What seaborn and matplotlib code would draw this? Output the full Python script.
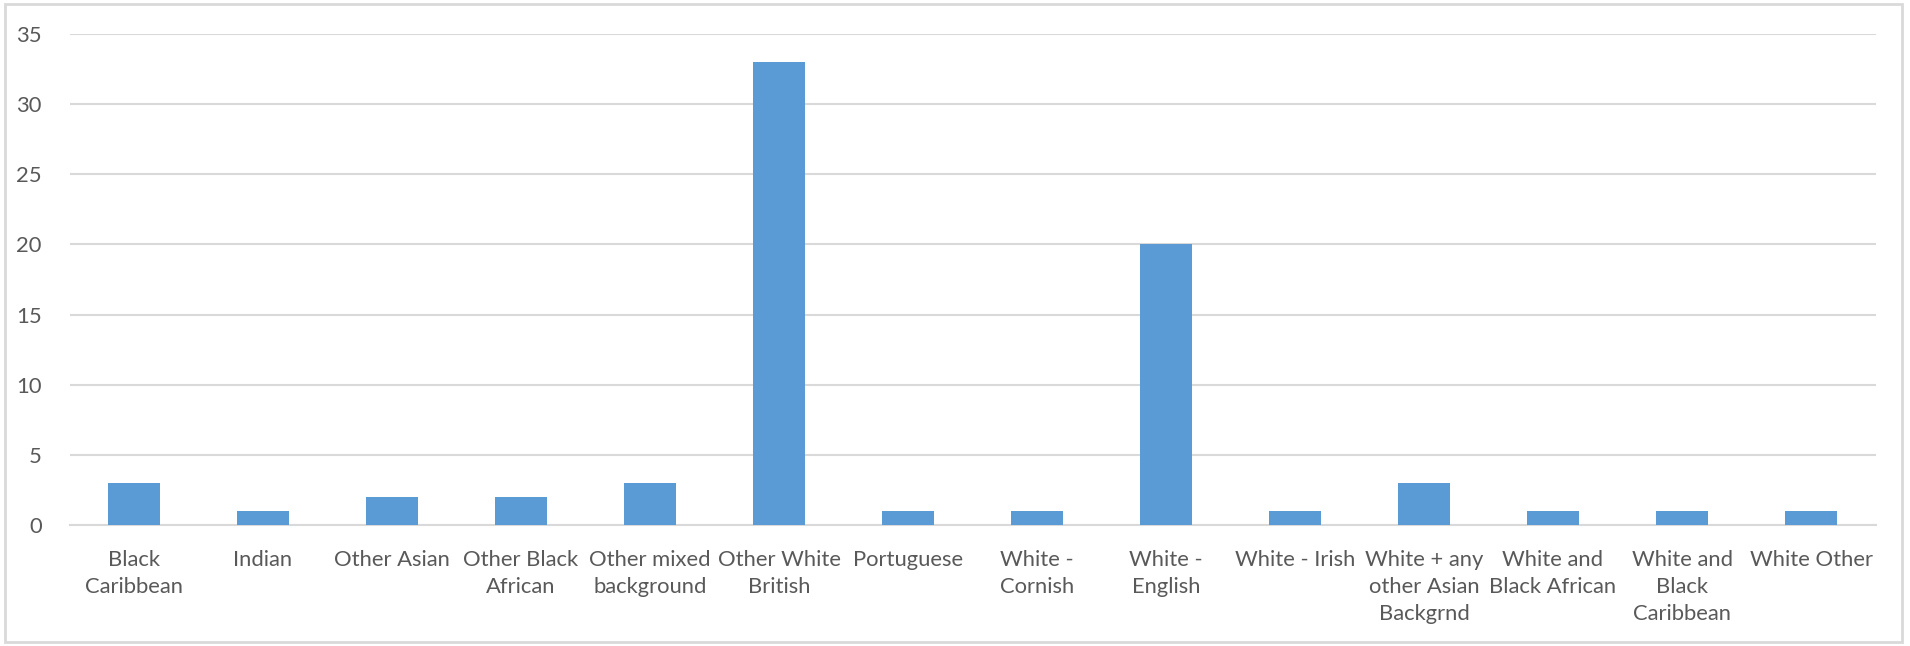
import matplotlib
matplotlib.use("Agg")
import matplotlib.pyplot as plt
import seaborn as sns
import pandas as pd
from matplotlib.patches import Rectangle

categories = ["Black\nCaribbean", "Indian", "Other Asian", "Other Black\nAfrican",
              "Other mixed\nbackground", "Other White\nBritish", "Portuguese",
              "White -\nCornish", "White -\nEnglish", "White - Irish",
              "White + any\nother Asian\nBackgrnd", "White and\nBlack African",
              "White and\nBlack\nCaribbean", "White Other"]
values = [3, 1, 2, 2, 3, 33, 1, 1, 20, 1, 3, 1, 1, 1]
y_ticks = [0, 5, 10, 15, 20, 25, 30, 35]

sns.set_theme(style="white")
plt.rcParams['font.family'] = ['Lato', 'DejaVu Sans']

df = pd.DataFrame({"cat": categories, "val": values})

fig = plt.figure(figsize=(19.1, 6.46), dpi=100)
ax = fig.add_axes([69.5 / 1910, 1 - 525 / 646, (1875.5 - 69.5) / 1910, (525 - 34) / 646])

sns.barplot(data=df, x="cat", y="val", ax=ax, color="#5b9bd5", saturation=1,
            width=0.4, edgecolor="none", zorder=3)

ax.set_ylim(0, 35)
ax.set_xlim(-0.5, len(categories) - 0.5)
ax.set_yticks(y_ticks)
ax.yaxis.grid(True, color="#d9d9d9", linewidth=1.5, zorder=0)
ax.set_axisbelow(True)
for s in ["top", "right", "left"]:
    ax.spines[s].set_visible(False)
ax.spines["bottom"].set_color("#d9d9d9")
ax.spines["bottom"].set_linewidth(1.5)
ax.tick_params(axis="both", length=0, colors="#595959", labelsize=15.8)
ax.tick_params(axis="y", pad=20)
ax.tick_params(axis="x", pad=18)
ax.set_xlabel("")
ax.set_ylabel("")
for lbl in ax.get_xticklabels():
    lbl.set_multialignment("center")
    lbl.set_linespacing(1.45)

fig.patches.append(Rectangle((5 / 1910, 4 / 646), 1897 / 1910, 638 / 646,
                             transform=fig.transFigure, fill=False,
                             edgecolor="#d9d9d9", linewidth=2))

fig.savefig("out.png", dpi=100, facecolor="white")
